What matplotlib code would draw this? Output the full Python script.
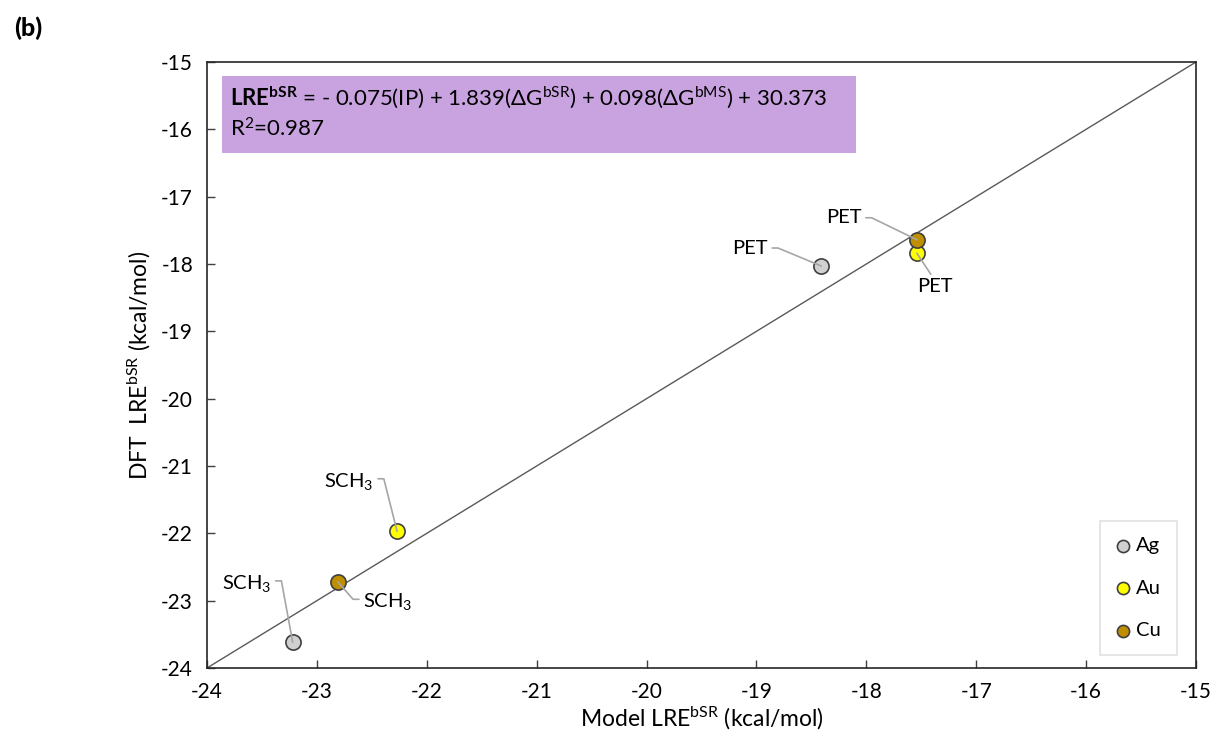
import matplotlib
matplotlib.use("Agg")
import matplotlib.pyplot as plt
from matplotlib.patches import Rectangle

plt.rcParams['font.family'] = ['Lato', 'DejaVu Sans']
plt.rcParams['mathtext.fontset'] = 'custom'
plt.rcParams['mathtext.rm'] = 'Lato'
plt.rcParams['mathtext.bf'] = 'Lato:bold'
plt.rcParams['mathtext.it'] = 'Lato:italic'
plt.rcParams['axes.unicode_minus'] = False

# data (kcal/mol)
metals = ['Ag', 'Au', 'Cu']
colors = ['#d0d0d0', '#ffff00', '#bf8f00']
ligands = ['PET', 'SCH$_3$']
model = {'Ag': [-18.41, -23.22], 'Au': [-17.54, -22.27], 'Cu': [-17.54, -22.81]}
dft = {'Ag': [-18.03, -23.62], 'Au': [-17.84, -21.97], 'Cu': [-17.64, -22.72]}
lims = [-24, -15]
ticks = list(range(-24, -14))

# label offsets (pixels), anchor on text box, arm direction
label_style = {
    ('Ag', 0): ((-71, 18), (1, 0.5), 0, 10),
    ('Cu', 0): ((-73, 22), (1, 0.5), 0, 10),
    ('Au', 0): ((18, -33), (0.45, 1), None, 0),
    ('Au', 1): ((-48, 50), (1, 0.62), 0, 10),
    ('Ag', 1): ((-46, 59), (1, 0.62), 0, 10),
    ('Cu', 1): ((50, -20), (0, 0.62), 180, 10),
}

fig = plt.figure(figsize=(12.13, 7.36), dpi=100)
ax = fig.add_axes([207 / 1213, 68 / 736, 989 / 1213, 606 / 736])

ax.plot(lims, lims, color='#595959', lw=1, zorder=1)

for m, c in zip(metals, colors):
    ax.scatter(model[m], dft[m], s=120, color=c, edgecolor='#404040',
               linewidth=1.2, zorder=3, label=m)
    for i, lab in enumerate(ligands):
        off, rel, ang, arm = label_style[(m, i)]
        if ang is None:
            cs = 'arc3'
        else:
            cs = f'arc,angleA={ang},angleB=0,armA={arm},armB=0,rad=0'
        ax.annotate(lab, xy=(model[m][i], dft[m][i]), xytext=off,
                    textcoords='offset pixels', ha='center', va='center',
                    fontsize=14.5, zorder=4,
                    arrowprops=dict(arrowstyle='-', color='#a6a6a6', lw=1.2,
                                    connectionstyle=cs, relpos=rel,
                                    patchA=None, shrinkA=3, shrinkB=0))

ax.set_xlim(lims)
ax.set_ylim(lims)
ax.set_xticks(ticks)
ax.set_yticks(ticks)
ax.tick_params(direction='in', length=6, width=1, labelsize=15, pad=10,
               color='#404040')
for sp in ax.spines.values():
    sp.set_color('#262626')
    sp.set_linewidth(1.2)

ax.set_xlabel('Model LRE$^{\\mathrm{bSR}}$ (kcal/mol)', fontsize=16.5, labelpad=2)
ax.set_ylabel('DFT  LRE$^{\\mathrm{bSR}}$ (kcal/mol)', fontsize=16.5, labelpad=6)

# equation box
ax.add_patch(Rectangle((0.0152, 0.850), 0.641, 0.127, transform=ax.transAxes,
                       facecolor='#c9a3e0', edgecolor='none', zorder=2))
ax.text(0.023, 0.942,
        '$\\mathbf{LRE}^{\\mathbf{bSR}}$ = - 0.075(IP) + 1.839(ΔG$^{\\mathrm{bSR}}$)'
        ' + 0.098(ΔG$^{\\mathrm{bMS}}$) + 30.373',
        transform=ax.transAxes, fontsize=16, va='center', ha='left', zorder=3)
ax.text(0.023, 0.890, 'R$^{2}$=0.987', transform=ax.transAxes, fontsize=16,
        va='center', ha='left', zorder=3)

leg = ax.legend(loc='lower right', bbox_to_anchor=(0.981, 0.0215),
                fancybox=False, edgecolor='#d9d9d9', fontsize=14.5,
                labelspacing=1.25, handlelength=0.7, handletextpad=0.3,
                borderpad=0.8, borderaxespad=0, scatterpoints=1,
                markerscale=0.8)
leg.get_frame().set_linewidth(1.2)

fig.text(28 / 1213, 1 - 28 / 736, '(b)', fontsize=18, fontweight='black',
         ha='center', va='center')

fig.savefig('out.png', dpi=100)
